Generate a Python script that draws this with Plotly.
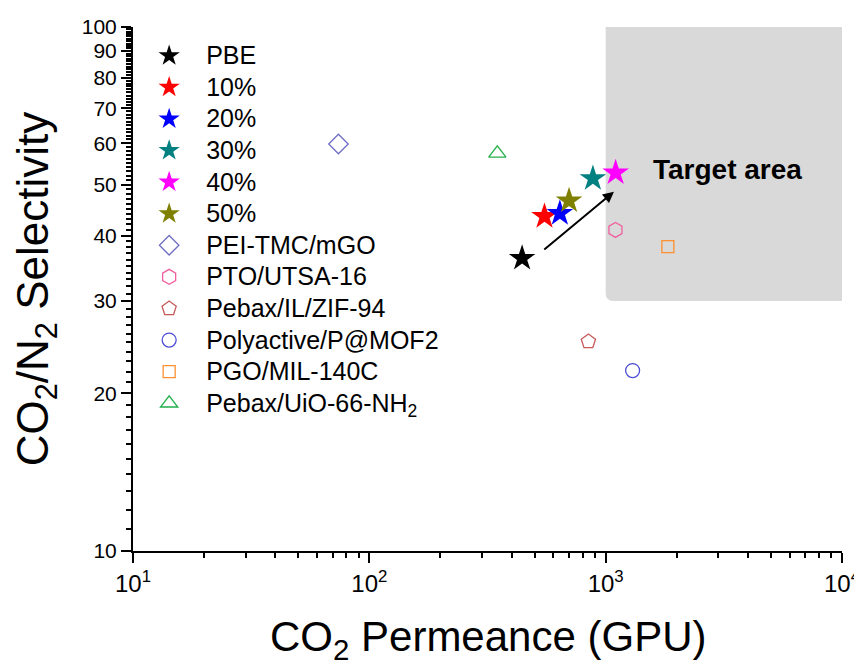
import numpy as np
import plotly.graph_objects as go

# ---------------- data ----------------
this_work_names = ["PBE", "10%", "20%", "30%", "40%", "50%"]
this_work_permeance = [443, 551, 640, 883, 1102, 700]
this_work_selectivity = [36.2, 43.5, 44.1, 51.4, 52.7, 46.6]
this_work_colors = ["#000000", "#FF0000", "#0000FF", "#008080", "#FF00FF", "#808000"]

lit_names = ["PEI-TMC/mGO", "PTO/UTSA-16", "Pebax/IL/ZIF-94", "Polyactive/P@MOF2",
             "PGO/MIL-140C", "Pebax/UiO-66-NH<sub>2</sub>"]
lit_permeance = [74, 1100, 845, 1300, 1833, 348]
lit_selectivity = [59.8, 41.0, 25.1, 22.1, 38.1, 57.4]
lit_colors = ["#6F6FC4", "#F0609E", "#C85A5A", "#4C4CD4", "#FF9030", "#22B04A"]
lit_symbols = ["diamond-open", "hexagon-open", "pentagon-open", "circle-open",
               "square-open", "triangle-up-open"]
lit_sizes = [15, 15, 15, 14, 12, 15]

# target region and trend arrow (data units)
target_x_min, target_x_max = 1000, 10000
target_y_min, target_y_max = 30, 100
arrow_start = (542, 37.4)
arrow_end = (1084, 48.5)
target_label_pos = (3280, 53.4)

x_major = [10, 100, 1000, 10000]
x_major_text = ["10<sup>1</sup>", "10<sup>2</sup>", "10<sup>3</sup>", "10<sup>4</sup>"]
x_minor = [m * d for d in (10, 100, 1000) for m in range(2, 10)]
y_major = [10, 20, 30, 40, 50, 60, 70, 80, 90, 100]
y_minor = [v for v in range(11, 100) if v % 10 != 0]

FONT = "Liberation Sans, Arial, sans-serif"


def legend_label(s):
    return f'<span style="font-size:25px">{s}</span>'


fig = go.Figure()

for n, xv, yv, c in zip(this_work_names, this_work_permeance, this_work_selectivity, this_work_colors):
    fig.add_trace(go.Scatter(x=[xv], y=[yv], mode="markers", name=legend_label(n),
                             marker=dict(symbol="star", size=20, color=c,
                                         line=dict(width=0))))

for n, xv, yv, c, s, sz in zip(lit_names, lit_permeance, lit_selectivity, lit_colors, lit_symbols, lit_sizes):
    fig.add_trace(go.Scatter(x=[xv], y=[yv], mode="markers", name=legend_label(n),
                             marker=dict(symbol=s, size=sz, color=c,
                                         line=dict(width=1.3, color=c))))

# target area (rounded bottom-left corner), in paper coords derived from data
def xp(v):
    return (np.log10(v) - 1) / 3

def yp(v):
    return (np.log10(v) - 1) / 1

x0, x1 = xp(target_x_min), xp(target_x_max)
y0, y1 = yp(target_y_min), yp(target_y_max)
rx, ry = 8 / 709, 8 / 524
path = (f"M {x0},{y1} L {x0},{y0+ry} Q {x0},{y0} {x0+rx},{y0} "
        f"L {x1},{y0} L {x1},{y1} Z")
fig.add_shape(type="path", path=path, xref="paper", yref="paper",
              fillcolor="#D9D9D9", line=dict(width=0), layer="below")

fig.add_annotation(x=np.log10(arrow_end[0]), y=np.log10(arrow_end[1]),
                   ax=np.log10(arrow_start[0]), ay=np.log10(arrow_start[1]),
                   xref="x", yref="y", axref="x", ayref="y", text="",
                   showarrow=True, arrowhead=2, arrowsize=1.1, arrowwidth=2,
                   arrowcolor="black")

fig.add_annotation(x=np.log10(target_label_pos[0]), y=np.log10(target_label_pos[1]),
                   xref="x", yref="y", text="<b>Target area</b>", showarrow=False,
                   font=dict(family=FONT, size=28, color="black"))

# x-axis title as a paper annotation (keeps it inside the visible window)
fig.add_annotation(x=0.5, y=-0.168, xref="paper", yref="paper", xanchor="center",
                   yanchor="middle", text="CO<sub>2</sub> Permeance (GPU)",
                   showarrow=False, font=dict(family=FONT, size=42, color="black"))

common_axis = dict(type="log", showgrid=False, zeroline=False, showline=True,
                   linecolor="black", linewidth=2, automargin=False)

fig.update_layout(
    width=862, height=664,
    margin=dict(l=125, r=28, t=19, b=121),
    paper_bgcolor="white", plot_bgcolor="rgba(0,0,0,0)",
    font=dict(family=FONT, color="black"),
    showlegend=True,
    legend=dict(x=-0.0012, y=0.985, xanchor="left", yanchor="top",
                bgcolor="rgba(0,0,0,0)", font=dict(family=FONT, size=22),
                itemsizing="trace", tracegroupgap=0, itemwidth=64),
    xaxis=dict(**common_axis, range=[1, 4], ticks="outside", ticklen=10, tickwidth=2,
               tickcolor="black", tickvals=x_major, ticktext=x_major_text,
               tickfont=dict(family=FONT, size=24), ticklabelstandoff=0,
               minor=dict(tickvals=x_minor, ticks="outside", ticklen=5, tickwidth=2,
                          tickcolor="black")),
    yaxis=dict(**common_axis, range=[1, 2], ticks="outside", ticklen=10, tickwidth=2,
               tickcolor="black", tickvals=y_major, ticktext=[str(v) for v in y_major],
               tickfont=dict(family=FONT, size=21),
               minor=dict(tickvals=y_minor, ticks="outside", ticklen=5, tickwidth=1.5,
                          tickcolor="black"),
               title=dict(text="CO<sub>2</sub>/N<sub>2</sub> Selectivity",
                          font=dict(family=FONT, size=44), standoff=26)),
    xaxis2=dict(**common_axis, range=[1, 4], overlaying="x", side="top", anchor="y",
                ticks="inside", ticklen=10, tickwidth=2, tickcolor="black",
                tickvals=x_major, showticklabels=False,
                minor=dict(tickvals=x_minor, ticks="inside", ticklen=5, tickwidth=2,
                           tickcolor="black")),
    yaxis2=dict(**common_axis, range=[1, 2], overlaying="y", side="right", anchor="x",
                ticks="inside", ticklen=10, tickwidth=2, tickcolor="black",
                tickvals=y_major, showticklabels=False,
                minor=dict(tickvals=y_minor, ticks="inside", ticklen=5, tickwidth=1.5,
                           tickcolor="black")),
)

fig.write_html("out.html")
